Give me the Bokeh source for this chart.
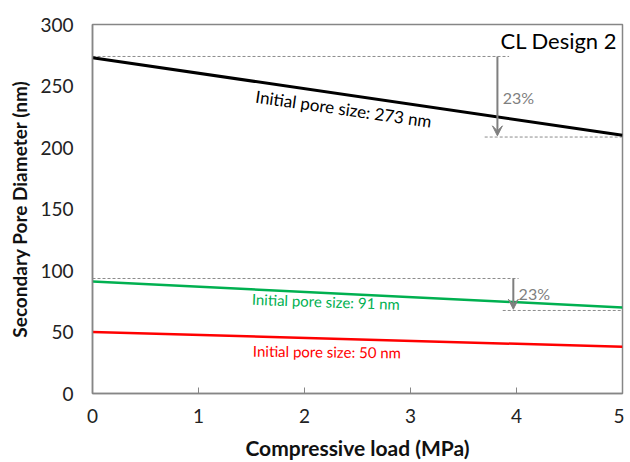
from bokeh.plotting import figure
from bokeh.models import Range1d, FixedTicker, Arrow, VeeHead
from bokeh.core.properties import value
from bokeh.embed import file_html
from bokeh.resources import INLINE

# ---- data ----
loads = [0, 5]
pore_273 = [273, 210]
pore_91 = [91, 70]
pore_50 = [50, 38]
x_ticks = [0, 1, 2, 3, 4, 5]
y_ticks = [0, 50, 100, 150, 200, 250, 300]

label_273 = "Initial pore size: 273 nm"
label_91 = "Initial pore size:  91 nm"
label_50 = "Initial pore size:  50 nm"
title_text = "CL Design 2"
pct_text = "23%"

# reduction markers: (start level, end level)
top_drop = [274, 208.5]
low_drop = [93.5, 67.5]

FONT = "Lato"
GRAY = "#868686"

p = figure(frame_width=530, frame_height=369,
           output_backend="svg", toolbar_location=None,
           x_range=Range1d(0, 5), y_range=Range1d(0, 300),
           min_border_left=92, min_border_right=2, min_border_top=24, min_border_bottom=69)
p.grid.visible = False
p.outline_line_color = GRAY
p.outline_line_width = 1.5
p.background_fill_color = "white"
p.border_fill_color = "white"

p.xaxis.ticker = FixedTicker(ticks=x_ticks)
p.yaxis.ticker = FixedTicker(ticks=y_ticks)
for ax in (p.xaxis[0], p.yaxis[0]):
    ax.axis_line_color = GRAY
    ax.axis_line_width = 1.5
    ax.major_tick_line_color = GRAY
    ax.minor_tick_line_color = None
    ax.major_label_text_font = FONT
    ax.major_label_text_font_size = "19px"
    ax.major_label_text_color = "#222222"
    ax.axis_label_text_font = FONT
    ax.axis_label_text_font_style = "bold"
    ax.axis_label_text_color = "#111111"
p.xaxis.major_tick_in = 6
p.xaxis.major_tick_out = 0
p.xaxis.major_label_standoff = 15
p.xaxis.axis_label = "Compressive load (MPa)"
p.xaxis.axis_label_text_font_size = "21px"
p.xaxis.axis_label_standoff = 9
p.yaxis.major_tick_in = 0
p.yaxis.major_tick_out = 0
p.yaxis.major_label_standoff = 19
p.yaxis.axis_label = "Secondary Pore Diameter (nm)"
p.yaxis.axis_label_text_font_size = "19px"
p.yaxis.axis_label_standoff = 6

# reference dashed lines
dash_kw = dict(line_color="#8c8c8c", line_width=1, line_dash="3 2")
p.line([0, 3.93], [top_drop[0]] * 2, **dash_kw)
p.line([3.70, 5], [top_drop[1]] * 2, **dash_kw)
p.line([0, 4.02], [low_drop[0]] * 2, **dash_kw)
p.line([3.87, 5], [low_drop[1]] * 2, **dash_kw)

# series
p.line(loads, pore_273, line_color="black", line_width=3)
p.line(loads, pore_91, line_color="#00B050", line_width=2.5)
p.line(loads, pore_50, line_color="#FF0000", line_width=2.5)

# arrows
for xa, (y0, y1) in ((3.82, top_drop), (3.97, low_drop)):
    p.add_layout(Arrow(x_start=xa, y_start=y0, x_end=xa, y_end=y1 + 1,
                       line_color="#7f7f7f", line_width=2,
                       end=VeeHead(size=10, line_color="#7f7f7f", fill_color="#7f7f7f", line_width=1)))

# texts
p.text(x=[2.37], y=[231.5], text=[label_273], angle=-0.142,
       text_font=value(FONT), text_font_size="17px", text_color="black",
       text_align="center", text_baseline="middle")
p.text(x=[2.22], y=[74.8], text=[label_91], angle=-0.035,
       text_font=value(FONT), text_font_size="15px", text_color="#00B050",
       text_align="center", text_baseline="middle")
p.text(x=[2.23], y=[34.1], text=[label_50], angle=-0.012,
       text_font=value(FONT), text_font_size="15px", text_color="#FF0000",
       text_align="center", text_baseline="middle")
p.text(x=[4.95], y=[287], text=[title_text],
       text_font=value(FONT), text_font_size="22px", text_color="black",
       text_align="right", text_baseline="middle")
p.text(x=[3.87, 4.02], y=[240.6, 81.3], text=[pct_text, pct_text],
       text_font=value(FONT), text_font_size="16px", text_color="#7f7f7f",
       text_align="left", text_baseline="middle")

open("out.html", "w").write(file_html(p, INLINE))
